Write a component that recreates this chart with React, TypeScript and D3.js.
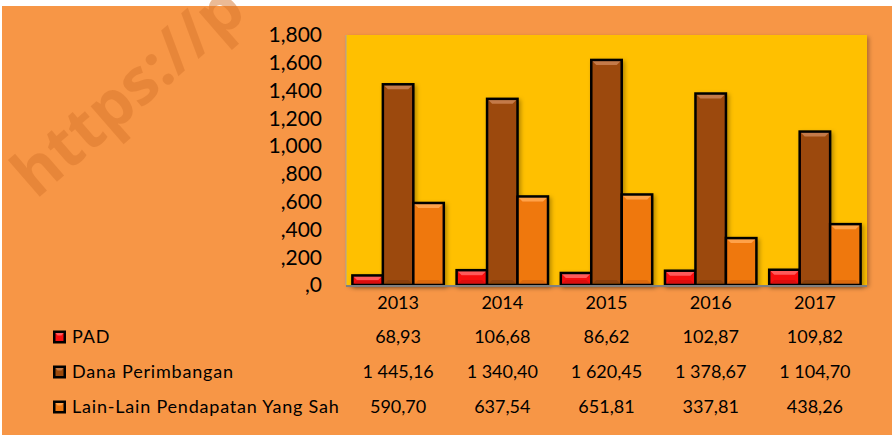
import * as d3 from "d3";

const years = ["2013", "2014", "2015", "2016", "2017"];
const seriesNames = ["PAD", "Dana Perimbangan", "Lain-Lain Pendapatan Yang Sah"];
const pad = [68.93, 106.68, 86.62, 102.87, 109.82];
const dana = [1445.16, 1340.4, 1620.45, 1378.67, 1104.7];
const lain = [590.7, 637.54, 651.81, 337.81, 438.26];
const yTicks = [0, 200, 400, 600, 800, 1000, 1200, 1400, 1600, 1800];

const seriesValues = [pad, dana, lain];
const fills = ["#F80D0D", "#9C4A0B", "#EF7811"];
const lights = ["#FF5A5A", "#C47A48", "#FFA24A"];
const darks = ["#C80808", "#7E3A08", "#CF6208"];

const W = 892;
const H = 435;
const font = "Lato, 'Open Sans', sans-serif";

// Excel style labels: ",800" and "1,800"
const tickLabel = (v: number) => (v >= 1000 ? d3.format(",")(v) : "," + v);
// table values: "1 445,16"
const tableLabel = (v: number) => {
  const [int, dec] = v.toFixed(2).split(".");
  return int.replace(/\B(?=(\d{3})+(?!\d))/g, " ") + "," + dec;
};

function Bevel({ x, y, w, h, i }: { x: number; y: number; w: number; h: number; i: number }) {
  const b = Math.min(5, h / 2);
  return (
    <g>
      <rect x={x} y={y} width={w} height={h} fill={fills[i]} />
      <polygon
        points={`${x},${y} ${x + w},${y} ${x + w - b},${y + b} ${x + b},${y + b}`}
        fill={lights[i]}
      />
      <polygon
        points={`${x},${y + h} ${x + w},${y + h} ${x + w - b},${y + h - b} ${x + b},${y + h - b}`}
        fill={darks[i]}
        opacity={0.6}
      />
      <rect x={x} y={y} width={w} height={h} fill="none" stroke="#000" strokeWidth={2.5} />
    </g>
  );
}

export default function App() {
  const left = 346;
  const right = 867;
  const top = 35;
  const bottom = 285;

  const x0 = d3.scaleBand().domain(years).range([left, right]).paddingInner(0).paddingOuter(0);
  const x1 = d3
    .scaleBand()
    .domain(seriesNames)
    .range([0, x0.bandwidth()])
    .paddingInner(0)
    .paddingOuter(0.21);
  const y = d3.scaleLinear().domain([0, 1800]).range([bottom, top]);

  const rowY = [337, 372, 407];

  return (
    <svg
      width={W}
      height={H}
      style={{ position: "absolute", left: 0, top: 0 }}
      fontFamily={font}
    >
      <defs>
        <filter id="shadow" x="-10%" y="-10%" width="130%" height="130%">
          <feDropShadow dx="2" dy="2" stdDeviation="2" floodColor="#000" floodOpacity="0.3" />
        </filter>
      </defs>
      <rect x={0} y={0} width={W} height={H} fill="#fff" />
      <rect x={2} y={6} width={W - 2} height={H - 6} fill="#F79646" />

      {/* watermark */}
      <text
        transform="translate(36,200) rotate(-41)"
        fontSize={64}
        fontWeight="bold"
        fill="#D9782E"
        opacity={0.5}
        fontFamily="'Open Sans', sans-serif"
      >
        https://p
      </text>

      {/* plot area */}
      <rect
        x={left}
        y={top}
        width={right - left}
        height={bottom - top}
        fill="#FFC000"
        filter="url(#shadow)"
      />
      <line x1={left} x2={left} y1={top} y2={bottom} stroke="#A6A6A6" strokeWidth={1} />

      {/* y axis labels */}
      {yTicks.map((t) => (
        <text
          key={t}
          x={322}
          y={y(t)}
          dy="0.35em"
          textAnchor="end"
          fontSize={21}
          fill="#000"
        >
          {tickLabel(t)}
        </text>
      ))}

      {/* bars */}
      {years.map((yr, j) => (
        <g key={yr} filter="url(#shadow)">
          {seriesNames.map((s, i) => {
            const v = seriesValues[i][j];
            const bx = (x0(yr) ?? 0) + (x1(s) ?? 0);
            return (
              <Bevel key={s} x={bx} y={y(v)} w={x1.bandwidth()} h={bottom - y(v)} i={i} />
            );
          })}
        </g>
      ))}

      <line x1={left} x2={right} y1={bottom + 1} y2={bottom + 1} stroke="#7F7F7F" strokeWidth={2} />

      {/* categories */}
      {years.map((yr) => (
        <text
          key={yr}
          x={(x0(yr) ?? 0) + x0.bandwidth() / 2}
          y={309}
          textAnchor="middle"
          fontSize={18}
          fill="#000"
        >
          {yr}
        </text>
      ))}

      {/* data table */}
      {seriesNames.map((s, i) => (
        <g key={s}>
          <g transform={`translate(53,${rowY[i] - 6.5})`}>
            <rect width={13} height={13} fill="#000" />
            <rect x={2.5} y={2.5} width={8} height={8} fill={fills[i]} />
            <polygon points="2.5,2.5 10.5,2.5 8.5,5 4.5,5" fill={lights[i]} />
          </g>
          <text x={72} y={rowY[i]} dy="0.35em" fontSize={18} letterSpacing={0.8} fill="#000">
            {s}
          </text>
          {years.map((yr, j) => (
            <text
              key={yr}
              x={(x0(yr) ?? 0) + x0.bandwidth() / 2}
              y={rowY[i]}
              dy="0.35em"
              textAnchor="middle"
              fontSize={18}
              fill="#000"
            >
              {tableLabel(seriesValues[i][j])}
            </text>
          ))}
        </g>
      ))}
    </svg>
  );
}
